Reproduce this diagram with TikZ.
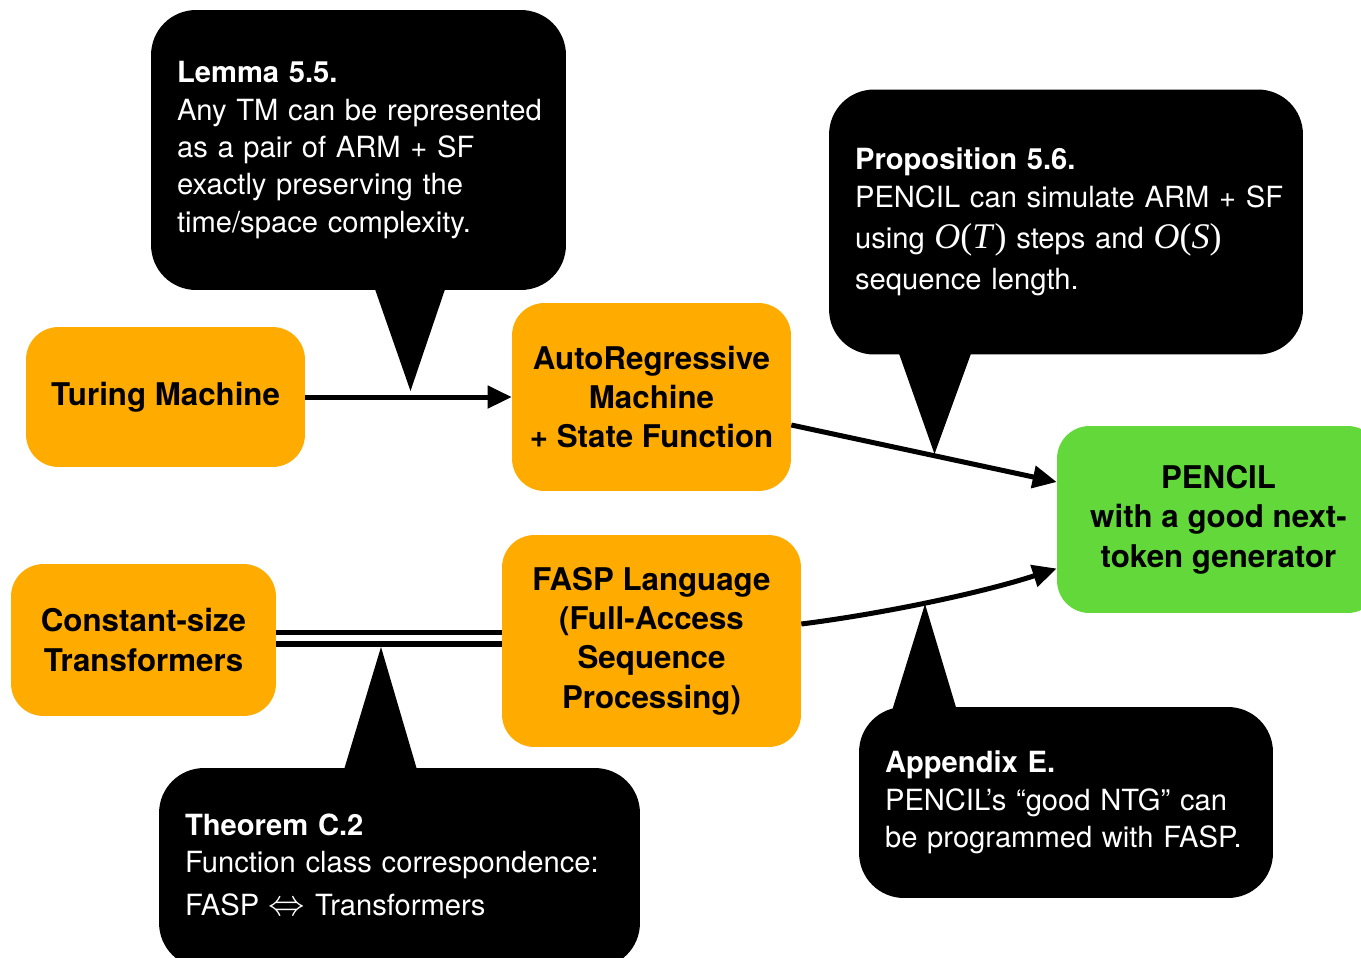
\documentclass[tikz,border=0pt]{standalone}
\usepackage{fontspec}
\setmainfont{TeX Gyre Heros}
\newfontfamily\serifmath{Liberation Serif}
\usetikzlibrary{arrows.meta,calc}

\definecolor{boxorange}{RGB}{255,171,0}
\definecolor{boxgreen}{RGB}{98,216,58}

% left-aligned lines of a note, never re-broken
\newcommand\notelines[1]{\begin{tabular}{@{}l@{}}#1\end{tabular}}
% big-O term set in a Times-like serif: \bigO{T} gives O(T)
\newcommand\bigO[1]{{\fontsize{20.5}{20}\serifmath\textit{O}(\textit{#1})}}
% slightly enlarged inline math
\newcommand\bigmath[1]{{\fontsize{20}{20}\selectfont$#1$}}

\begin{document}
\begin{tikzpicture}[x=0.02cm,y=-0.02cm,
  stage/.style={rounded corners=0.65cm, inner sep=0pt, align=center,
    font=\fontsize{17.8}{22.4}\selectfont\bfseries},
  orangebox/.style={stage, fill=boxorange},
  greenbox/.style={stage, fill=boxgreen},
  note/.style={fill=black, text=white, rounded corners=0.9cm,
    inner xsep=0.52cm, inner ysep=0pt, align=left,
    font=\fontsize{16.6}{21.3}\selectfont},
  pointer/.style={fill=black},
  link/.style={line width=0.1cm, -{Triangle[length=0.48cm,width=0.44cm]}},
  doublelink/.style={line width=0.11cm, double=white, double distance=0.12cm},
]
\clip (0,0) rectangle (1361,957);

% main stages
\node[orangebox, minimum width=5.58cm, minimum height=2.8cm] (tm) at (165.5,397) {Turing Machine};
\node[orangebox, minimum width=5.58cm, minimum height=3.76cm] (arm) at (651.5,397)
  {AutoRegressive\\Machine\\+ State Function};
\node[orangebox, minimum width=5.3cm, minimum height=3.04cm] (const) at (143.5,640)
  {Constant-size\\Transformers};
\node[orangebox, minimum width=5.98cm, minimum height=4.24cm] (fasp) at (651.5,641)
  {FASP Language\\(Full-Access\\Sequence\\Processing)};
\node[greenbox, minimum width=6.46cm, minimum height=3.74cm] (pencil) at (1218.5,519.5)
  {PENCIL\\with a good next-\\token generator};

% connectors
\draw[link] (tm) -- (arm);
\draw[link] ($(arm.east)+(0,28)$) -- ($(pencil.west)+(0,-37.5)$);
\draw[link] ($(fasp.east)+(0,-17)$) .. controls +(79,-10) and +(-77,25) .. ($(pencil.west)+(0,49)$);
\draw[doublelink] ($(const.east)+(0,-2)$) -- ($(fasp.west)+(0,-3)$);

% notes
\node[note, text width=7.26cm, minimum height=5.6cm] (lemma) at (358.5,150)
  {\notelines{\textbf{Lemma 5.5.}\\Any TM can be represented\\as a pair of ARM + SF\\exactly preserving the\\time/space complexity.}};
\node[note, text width=8.44cm, minimum height=5.3cm] (prop) at (1066,222)
  {\notelines{\textbf{Proposition 5.6.}\\PENCIL can simulate ARM + SF\\[2pt]using \bigO{T} steps and \bigO{S}\\[2pt]sequence length.}};
\node[note, text width=8.58cm, minimum height=4.0cm] (thm) at (399.5,868)
  {\notelines{\textbf{Theorem C.2}\\Function class correspondence:\\[3pt]FASP \bigmath{\Leftrightarrow} Transformers}};
\node[note, text width=7.24cm, minimum height=3.82cm] (app) at (1066,802.5)
  {\notelines{\textbf{Appendix E.}\\PENCIL’s “good NTG” can\\be programmed with FASP.}};

% speech-bubble pointers
\coordinate (lemtip) at (410.5,391);
\coordinate (proptip) at (934.5,454);
\coordinate (thmtip) at (381,647);
\coordinate (apptip) at (925,604);
\fill[pointer] ($(lemma.south)+(15.5,-4)$) -- (lemtip) -- ($(lemma.south)+(87.5,-4)$) -- cycle;
\fill[pointer] ($(prop.south)+(-168,-4)$) -- (proptip) -- ($(prop.south)+(-94,-4)$) -- cycle;
\fill[pointer] ($(thm.north)+(-55.5,2)$) -- (thmtip) -- ($(thm.north)+(17.5,2)$) -- cycle;
\fill[pointer] ($(app.north)+(-174,4)$) -- (apptip) -- ($(app.north)+(-109,4)$) -- cycle;
\end{tikzpicture}
\end{document}
